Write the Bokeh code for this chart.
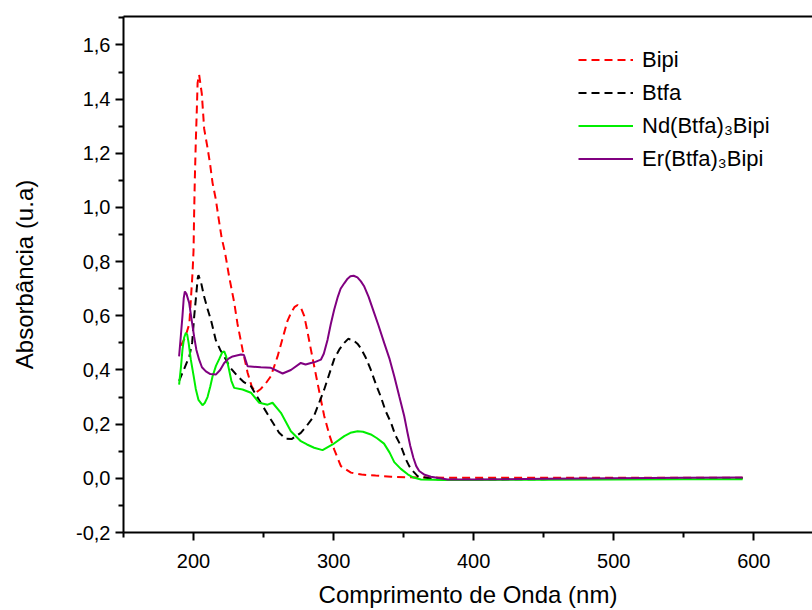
from bokeh.plotting import figure
from bokeh.models import (Range1d, LinearAxis, FixedTicker, CustomJSTickFormatter,
                          Legend, LegendItem)
from bokeh.embed import file_html
from bokeh.resources import INLINE

# ---- data ----
bipi_x = [191, 194, 197, 199.3, 200, 200.4, 200.9, 201.6, 202.4, 202.9, 204, 205.9, 207.6, 210,
          211.9, 213.6, 215.9, 217.9, 220, 222.6, 225.4, 229, 231.4, 235, 238.6, 241.5, 244.5,
          248, 251.5, 255.2, 260, 264.7, 267, 269.5, 272, 274.3, 276.5, 279, 281, 283.8, 288.6,
          293.3, 297, 300.4, 305.2, 312.4, 320, 330, 341, 360, 400, 450, 500, 550, 592]
bipi_y = [0.49, 0.52, 0.57, 0.76, 0.84, 0.97, 1.10, 1.24, 1.37, 1.46, 1.49, 1.42, 1.29, 1.22,
          1.157, 1.09, 1.03, 0.96, 0.89, 0.83, 0.745, 0.65, 0.57, 0.475, 0.39, 0.34, 0.316,
          0.33, 0.35, 0.377, 0.45, 0.537, 0.58, 0.61, 0.632, 0.64, 0.632, 0.60, 0.55, 0.475, 0.35,
          0.23, 0.16, 0.107, 0.045, 0.021, 0.014, 0.01, 0.006, 0.003, 0.002, 0.002, 0.002, 0.002,
          0.002]

btfa_x = [189.7, 193, 197, 199, 200.5, 201.6, 203, 203.5, 205.5, 207.6, 210, 212.4, 215.9, 219,
          221.9, 226, 231.4, 236, 241, 248, 255.2, 261.1, 265.9, 270, 276.6, 281, 286, 293.3,
          300.4, 304, 307.6, 310.4, 314, 317, 319.5, 323, 326.6, 330, 333.8, 337, 341, 344, 348,
          351.6, 354, 356, 360, 370, 380, 400, 420, 450, 500, 550, 592]
btfa_y = [0.36, 0.40, 0.45, 0.50, 0.60, 0.66, 0.74, 0.75, 0.72, 0.67, 0.625, 0.585, 0.51, 0.475,
          0.45, 0.41, 0.377, 0.355, 0.34, 0.279, 0.217, 0.168, 0.146, 0.145, 0.168, 0.195, 0.23,
          0.328, 0.44, 0.475, 0.50, 0.515, 0.51, 0.497, 0.48, 0.445, 0.40, 0.35, 0.30, 0.25, 0.205,
          0.16, 0.12, 0.07, 0.045, 0.03, 0.008, -0.002, -0.005, -0.005, -0.004, -0.003, -0.002,
          0.0, 0.0]

nd_x = [189.7, 191, 192.1, 193.3, 194.5, 195.5, 196.5, 198, 200, 201.6, 203.5, 206.4, 208, 210,
        212, 213.6, 216, 218.3, 220.5, 221.9, 223.3, 225.4, 227, 229, 235, 241, 246.9, 252.9,
        256.4, 262.4, 269.5, 276.6, 281, 286.1, 292.1, 299.3, 307.6, 312, 317.1, 321, 326.6,
        331, 336, 340, 343.3, 348, 352.9, 357, 362.4, 380, 400, 450, 500, 550, 592]
nd_y = [0.346, 0.41, 0.475, 0.52, 0.537, 0.53, 0.50, 0.44, 0.38, 0.33, 0.29, 0.27, 0.278, 0.30,
        0.34, 0.377, 0.415, 0.44, 0.465, 0.469, 0.45, 0.40, 0.36, 0.334, 0.328, 0.316, 0.279,
        0.272, 0.279, 0.242, 0.174, 0.137, 0.125, 0.113, 0.104, 0.125, 0.156, 0.168, 0.174,
        0.172, 0.162, 0.148, 0.128, 0.095, 0.06, 0.035, 0.015, 0.003, -0.004, -0.006, -0.006,
        -0.005, -0.004, -0.003, -0.003]

er_x = [189.7, 191, 192.1, 193, 193.8, 195, 196.9, 198.5, 200.4, 202, 204, 206, 208.8, 212,
        215.9, 219, 221.9, 225, 227.9, 233.8, 236, 238.6, 248, 255.2, 263.6, 269.5, 276.6, 280,
        283.8, 287, 290.9, 293, 295.7, 298, 300.4, 303, 305, 307.6, 310, 312, 314.3, 317, 319.5,
        321.9, 325, 329, 332, 336.1, 340, 343.3, 347, 350.4, 352.5, 354.7, 357, 359, 361.1, 365,
        369.5, 381.4, 400, 450, 500, 550, 592]
er_y = [0.45, 0.53, 0.60, 0.665, 0.69, 0.68, 0.647, 0.59, 0.524, 0.475, 0.438, 0.41, 0.395, 0.385,
        0.383, 0.40, 0.426, 0.442, 0.45, 0.457, 0.455, 0.414, 0.41, 0.408, 0.387, 0.40, 0.426,
        0.42, 0.426, 0.43, 0.438, 0.46, 0.512, 0.57, 0.622, 0.67, 0.70, 0.72, 0.737, 0.746, 0.748,
        0.742, 0.727, 0.708, 0.67, 0.61, 0.565, 0.50, 0.44, 0.377, 0.30, 0.23, 0.175, 0.12, 0.075,
        0.045, 0.027, 0.013, 0.006, -0.004, -0.004, -0.002, 0.0, 0.002, 0.003]

series_labels = ["Bipi", "Btfa", "Nd(Btfa)\u2083Bipi", "Er(Btfa)\u2083Bipi"]
x_ticks = [200, 300, 400, 500, 600]
x_minor = [150, 250, 350, 450, 550, 650]
y_ticks = [-0.2, 0.0, 0.2, 0.4, 0.6, 0.8, 1.0, 1.2, 1.4, 1.6]
y_minor = [-0.1, 0.1, 0.3, 0.5, 0.7, 0.9, 1.1, 1.3, 1.5, 1.7]

FONT = "Liberation Sans"

p = figure(width=812, height=610, output_backend="svg", toolbar_location=None,
           x_range=Range1d(150, 641.9), y_range=Range1d(-0.2, 1.705),
           x_axis_type=None, y_axis_type=None,
           min_border_left=123, min_border_right=0, min_border_top=16, min_border_bottom=10)
p.outline_line_color = None
p.grid.visible = False
p.background_fill_color = "white"
p.border_fill_color = "white"

fmt = CustomJSTickFormatter(code="return tick.toFixed(1).replace('.', ',');")

def style_axis(ax):
    ax.axis_line_width = 2
    ax.axis_line_color = "black"
    ax.major_tick_line_width = 2
    ax.minor_tick_line_width = 2
    ax.major_tick_out = 8
    ax.major_tick_in = 0
    ax.minor_tick_out = 5
    ax.minor_tick_in = 0
    ax.major_label_text_font = FONT
    ax.major_label_text_font_size = "20px"
    ax.major_label_text_color = "black"
    ax.axis_label_text_font = FONT
    ax.axis_label_text_font_size = "24px"
    ax.axis_label_text_font_style = "normal"
    ax.axis_label_text_color = "black"

xax = LinearAxis(ticker=FixedTicker(ticks=x_ticks, minor_ticks=x_minor),
                 axis_label="Comprimento de Onda (nm)")
style_axis(xax)
xax.major_label_standoff = 13
xax.axis_label_standoff = 10
p.add_layout(xax, "below")

yax = LinearAxis(ticker=FixedTicker(ticks=y_ticks, minor_ticks=y_minor),
                 formatter=fmt, axis_label="Absorbância (u.a)")
style_axis(yax)
yax.major_label_standoff = 5
yax.axis_label_standoff = 35
p.add_layout(yax, "left")

top = LinearAxis(ticker=FixedTicker(ticks=[]), major_label_text_font_size="0px")
top.axis_line_width = 2
top.major_tick_line_color = None
top.minor_tick_line_color = None
top.major_label_standoff = 0
p.add_layout(top, "above")

r1 = p.line(bipi_x, bipi_y, line_color="#ff0000", line_width=2, line_dash="8 5")
r2 = p.line(btfa_x, btfa_y, line_color="#000000", line_width=2, line_dash="8 5")
r3 = p.line(nd_x, nd_y, line_color="#00ee00", line_width=2)
r4 = p.line(er_x, er_y, line_color="#800080", line_width=2)

legend = Legend(items=[LegendItem(label=series_labels[0], renderers=[r1]),
                       LegendItem(label=series_labels[1], renderers=[r2]),
                       LegendItem(label=series_labels[2], renderers=[r3]),
                       LegendItem(label=series_labels[3], renderers=[r4])],
                location=(455, 360))
legend.border_line_color = None
legend.background_fill_alpha = 0
legend.padding = 0
legend.margin = 0
legend.spacing = 6
legend.glyph_width = 55
legend.glyph_height = 27
legend.label_height = 27
legend.label_standoff = 9
legend.label_text_font = FONT
legend.label_text_font_size = "22px"
legend.label_text_color = "black"
p.add_layout(legend, "center")

open("out.html", "w").write(file_html(p, INLINE))
